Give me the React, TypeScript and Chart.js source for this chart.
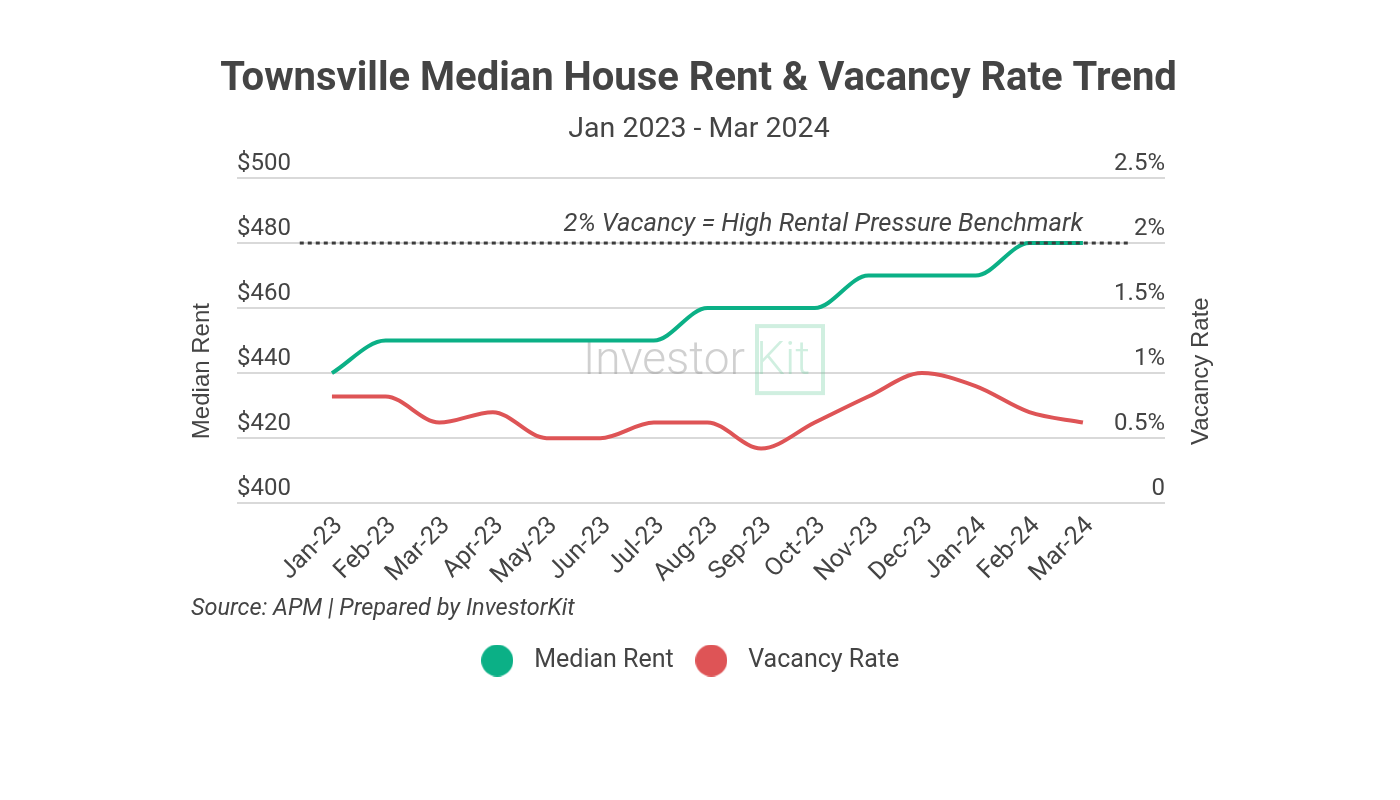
import { useEffect, useRef } from 'react';
import Chart from 'chart.js/auto';

// Monthly categories and series
const CATEGORIES = [
  'Jan-23', 'Feb-23', 'Mar-23', 'Apr-23', 'May-23', 'Jun-23', 'Jul-23', 'Aug-23',
  'Sep-23', 'Oct-23', 'Nov-23', 'Dec-23', 'Jan-24', 'Feb-24', 'Mar-24',
];
const MEDIAN_RENT = [440, 450, 450, 450, 450, 450, 450, 460, 460, 460, 470, 470, 470, 480, 480];
const VACANCY_RATE = [0.82, 0.82, 0.62, 0.7, 0.5, 0.5, 0.62, 0.62, 0.42, 0.62, 0.82, 1.0, 0.9, 0.7, 0.62];

// 2% vacancy reference line and the index range it spans
const BENCHMARK_RATE = 2;
const BENCHMARK_SPAN = [-0.6, 14.85];
const BENCHMARK_LABEL = '2% Vacancy = High Rental Pressure Benchmark';

// Axis ranges
const X_RANGE = [-1.77, 15.53];
const RENT_RANGE = [400, 500];
const RENT_STEP = 20;
const RATE_RANGE = [0, 2.5];
const RATE_STEP = 0.5;

const TITLE = 'Townsville Median House Rent & Vacancy Rate Trend';
const SUBTITLE = 'Jan 2023 - Mar 2024';
const SOURCE = 'Source: APM | Prepared by InvestorKit';

const TEXT = '#444444';
const GREEN = '#0bb086';
const RED = '#de5456';
const GRID = '#d9d9d9';

function makeDot(color: string, r: number) {
  const c = document.createElement('canvas');
  c.width = r * 2;
  c.height = r * 2;
  const ctx = c.getContext('2d')!;
  ctx.fillStyle = color;
  ctx.beginPath();
  ctx.arc(r, r, r, 0, Math.PI * 2);
  ctx.fill();
  return c;
}

const decorations = {
  id: 'decorations',
  beforeDatasetsDraw(chart: any) {
    const { ctx, chartArea: ca } = chart;
    const cx = (ca.left + ca.right) / 2;
    const cy = (ca.top + ca.bottom) / 2;
    ctx.save();
    ctx.font = '300 46px Roboto';
    ctx.textBaseline = 'alphabetic';
    ctx.textAlign = 'right';
    ctx.fillStyle = 'rgba(150,150,150,0.45)';
    ctx.fillText('Investor', cx + 44, cy + 33.5);
    ctx.strokeStyle = 'rgba(110,205,160,0.32)';
    ctx.fillStyle = 'rgba(110,205,160,0.32)';
    ctx.lineWidth = 4;
    ctx.strokeRect(cx + 56, cy - 14.5, 66, 67);
    ctx.textAlign = 'left';
    ctx.fillText('Kit', cx + 55, cy + 33.5);
    ctx.restore();
  },
  afterDraw(chart: any) {
    const { ctx, chartArea: ca, scales } = chart;
    const cx = (ca.left + ca.right) / 2 - 2.5;
    ctx.save();
    ctx.fillStyle = TEXT;
    ctx.textBaseline = 'middle';

    // heading and date range
    ctx.textAlign = 'center';
    ctx.font = 'bold 40px Roboto';
    ctx.fillText(TITLE, cx, ca.top - 98);
    ctx.font = '28.5px Roboto';
    ctx.fillText(SUBTITLE, cx + 0.5, ca.top - 48);

    // benchmark caption
    ctx.textAlign = 'right';
    ctx.font = 'italic 25.5px Roboto';
    ctx.fillText(
      BENCHMARK_LABEL,
      scales.x.getPixelForValue(CATEGORIES.length - 1),
      scales.y1.getPixelForValue(BENCHMARK_RATE) - 18,
    );

    // axis titles
    const midY = (ca.top + ca.bottom) / 2 + 30.5;
    ctx.font = '24px "Liberation Sans"';
    ctx.textAlign = 'center';
    for (const [text, x] of [['Median Rent', ca.left - 34.5], ['Vacancy Rate', ca.right + 36]] as [string, number][]) {
      ctx.save();
      ctx.translate(x, midY);
      ctx.rotate(-Math.PI / 2);
      ctx.fillText(text, 0, 0);
      ctx.restore();
    }
    ctx.restore();
  },
};

export default function App() {
  const canvasRef = useRef<HTMLCanvasElement | null>(null);

  useEffect(() => {
    if (!canvasRef.current) return;
    const tickFont = { family: 'Roboto', size: 24 };
    const chart = new Chart(canvasRef.current, {
      type: 'line',
      data: {
        datasets: [
          {
            label: 'Median Rent',
            data: MEDIAN_RENT.map((v, i) => ({ x: i, y: v })),
            yAxisID: 'y',
            borderColor: GREEN,
            backgroundColor: GREEN,
            borderWidth: 4,
            pointRadius: 0,
            pointStyle: makeDot(GREEN, 16),
            cubicInterpolationMode: 'monotone',
          },
          {
            label: 'Vacancy Rate',
            data: VACANCY_RATE.map((v, i) => ({ x: i, y: v })),
            yAxisID: 'y1',
            borderColor: RED,
            backgroundColor: RED,
            borderWidth: 4,
            pointRadius: 0,
            pointStyle: makeDot(RED, 16),
            cubicInterpolationMode: 'monotone',
          },
          {
            label: 'Benchmark',
            data: BENCHMARK_SPAN.map((x) => ({ x, y: BENCHMARK_RATE })),
            yAxisID: 'y1',
            borderColor: '#3c3c3c',
            borderWidth: 3,
            borderDash: [4, 4],
            pointRadius: 0,
            order: -1,
          },
        ],
      },
      options: {
        responsive: true,
        maintainAspectRatio: false,
        animation: false,
        events: [],
        layout: { padding: { left: 183, right: 211, top: 170, bottom: 109 } },
        plugins: {
          title: { display: false },
          subtitle: {
            display: true,
            text: SOURCE,
            position: 'bottom',
            align: 'start',
            weight: 500,
            color: TEXT,
            font: { family: 'Roboto', size: 23.5, style: 'italic' },
            padding: { top: 12.2, bottom: 11.4 },
          },
          legend: {
            position: 'bottom',
            labels: {
              usePointStyle: true,
              pointStyleWidth: 49,
              padding: 13,
              color: TEXT,
              font: { family: 'Roboto', size: 25 },
              filter: (item: any) => item.datasetIndex !== 2,
            },
          },
          tooltip: { enabled: false },
        },
        scales: {
          x: {
            type: 'linear',
            min: X_RANGE[0],
            max: X_RANGE[1],
            afterBuildTicks: (axis: any) => {
              axis.ticks = CATEGORIES.map((_, i) => ({ value: i }));
            },
            afterFit: (axis: any) => {
              axis.height = 80;
            },
            ticks: {
              autoSkip: false,
              minRotation: 45,
              maxRotation: 45,
              padding: 0,
              labelOffset: 7,
              color: TEXT,
              font: { family: 'Roboto', size: 25 },
              callback: (v: any) => CATEGORIES[Math.round(v)],
            },
            grid: { display: false },
            border: { display: false },
          },
          y: {
            position: 'left',
            min: RENT_RANGE[0],
            max: RENT_RANGE[1],
            afterFit: (axis: any) => {
              axis.width = 46;
            },
            ticks: {
              stepSize: RENT_STEP,
              mirror: true,
              padding: 0,
              labelOffset: -14,
              color: TEXT,
              font: tickFont,
              callback: (v: any) => '$' + v,
            },
            grid: { color: GRID, lineWidth: 2, drawTicks: false },
            border: { display: false },
          },
          y1: {
            position: 'right',
            min: RATE_RANGE[0],
            max: RATE_RANGE[1],
            afterFit: (axis: any) => {
              axis.width = 16;
            },
            ticks: {
              stepSize: RATE_STEP,
              mirror: true,
              padding: 0,
              labelOffset: -14,
              color: TEXT,
              font: tickFont,
              callback: (v: any) => (v === 0 ? '0' : `${v}%`),
            },
            grid: { display: false },
            border: { display: false },
          },
        },
      },
      plugins: [decorations],
    } as any);
    return () => chart.destroy();
  }, []);

  return (
    <div style={{ position: 'relative', width: '100%', height: '784px' }}>
      <canvas ref={canvasRef} />
    </div>
  );
}
